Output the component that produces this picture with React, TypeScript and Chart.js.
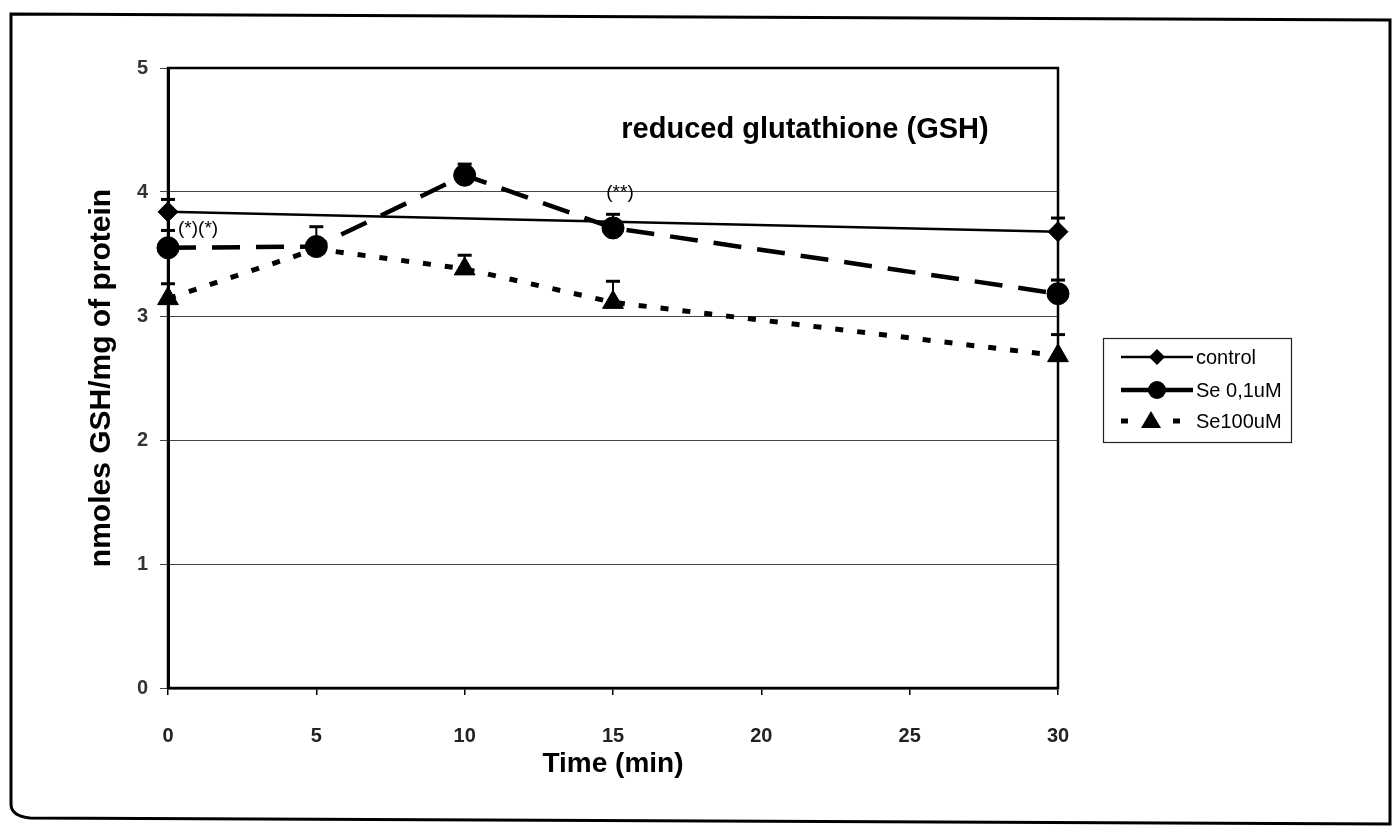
import React, { useEffect, useRef } from "react";
import { Chart, registerables } from "chart.js";

Chart.register(...registerables);

// ---- data ----
const timeTicks = [0, 5, 10, 15, 20, 25, 30];
const valueTicks = [0, 1, 2, 3, 4, 5];
const seriesLabels = ["control", "Se 0,1uM", "Se100uM"];

const controlTimes = [0, 30];
const controlValues = [3.84, 3.68];
const controlErrors = [0.1, 0.11];

const se01Times = [0, 5, 10, 15, 30];
const se01Values = [3.55, 3.56, 4.135, 3.71, 3.18];
const se01Errors = [0.14, 0.16, 0.09, 0.11, 0.11];

const se100Times = [0, 5, 10, 15, 30];
const se100Values = [3.14, 3.54, 3.38, 3.11, 2.68];
const se100Errors = [0.12, 0, 0.11, 0.17, 0.17];

const chartTitle = "reduced glutathione (GSH)";
const xTitle = "Time (min)";
const yTitle = "nmoles GSH/mg of protein";
const annotationSeries = [1, 1];
const annotationIndex = [0, 3];
const annotationText = ["(*)(*)", "(**)"];

const FONT = "'Liberation Sans', Arial, Helvetica, sans-serif";

const toPoints = (xs: number[], ys: number[]) => xs.map((x, i) => ({ x, y: ys[i] }));

const errorSets = [controlErrors, se01Errors, se100Errors];

const decorPlugin = {
  id: "decor",
  beforeDraw(chart: any) {
    const { ctx, width, height } = chart;
    ctx.save();
    ctx.fillStyle = "#fff";
    ctx.fillRect(0, 0, width, height);
    // outer frame
    ctx.strokeStyle = "#000";
    ctx.lineWidth = 3;
    ctx.beginPath();
    ctx.moveTo(11, 14);
    ctx.lineTo(width - 4, 20);
    ctx.lineTo(width - 4, height - 10);
    ctx.lineTo(30, height - 16);
    ctx.quadraticCurveTo(11, height - 18, 11, height - 30);
    ctx.closePath();
    ctx.stroke();
    ctx.restore();
  },
  afterDatasetsDraw(chart: any) {
    const { ctx } = chart;
    const yScale = chart.scales.y;
    ctx.save();
    ctx.strokeStyle = "#000";
    chart.data.datasets.forEach((ds: any, di: number) => {
      const meta = chart.getDatasetMeta(di);
      const errs = errorSets[di];
      meta.data.forEach((pt: any, i: number) => {
        const e = errs[i];
        if (!e) return;
        const v = ds.data[i].y;
        const yTop = yScale.getPixelForValue(v + e);
        ctx.lineWidth = 2;
        ctx.beginPath();
        ctx.moveTo(pt.x, pt.y);
        ctx.lineTo(pt.x, yTop);
        ctx.stroke();
        ctx.lineWidth = 3;
        ctx.beginPath();
        ctx.moveTo(pt.x - 7, yTop);
        ctx.lineTo(pt.x + 7, yTop);
        ctx.stroke();
      });
    });
    ctx.restore();
  },
  afterDraw(chart: any) {
    const { ctx, chartArea } = chart;
    const { left, right, top, bottom } = chartArea;
    ctx.save();
    // plot frame
    ctx.strokeStyle = "#000";
    ctx.lineWidth = 2.5;
    ctx.strokeRect(left, top, right - left, bottom - top);

    // title inside plot
    ctx.fillStyle = "#000";
    ctx.font = `bold 29px ${FONT}`;
    ctx.textAlign = "center";
    ctx.textBaseline = "middle";
    ctx.fillText(chartTitle, left + 637, top + 62);

    // annotations
    ctx.font = `19px ${FONT}`;
    annotationText.forEach((t, k) => {
      const meta = chart.getDatasetMeta(annotationSeries[k]);
      const pt = meta.data[annotationIndex[k]];
      if (k === 0) {
        ctx.textAlign = "left";
        ctx.fillText(t, pt.x + 10, pt.y - 19);
      } else {
        ctx.textAlign = "center";
        ctx.fillText(t, pt.x + 7, pt.y - 35);
      }
    });

    // legend
    const bx = right + 45;
    const by = top + 270;
    const bw = 188;
    const bh = 104;
    ctx.lineWidth = 1.2;
    ctx.strokeStyle = "#222";
    ctx.strokeRect(bx + 0.5, by + 0.5, bw, bh);
    const rowY = [by + 19, by + 52, by + 83];
    const x0 = bx + 18;
    const x1 = bx + 90;
    const xm = (x0 + x1) / 2;
    ctx.strokeStyle = "#000";
    ctx.fillStyle = "#000";
    // control
    ctx.lineWidth = 2.5;
    ctx.beginPath();
    ctx.moveTo(x0, rowY[0]);
    ctx.lineTo(x1, rowY[0]);
    ctx.stroke();
    ctx.beginPath();
    ctx.moveTo(xm, rowY[0] - 8);
    ctx.lineTo(xm + 8, rowY[0]);
    ctx.lineTo(xm, rowY[0] + 8);
    ctx.lineTo(xm - 8, rowY[0]);
    ctx.closePath();
    ctx.fill();
    // se 0.1
    ctx.lineWidth = 4.5;
    ctx.beginPath();
    ctx.moveTo(x0, rowY[1]);
    ctx.lineTo(x1, rowY[1]);
    ctx.stroke();
    ctx.beginPath();
    ctx.arc(xm, rowY[1], 9, 0, Math.PI * 2);
    ctx.fill();
    // se 100
    ctx.fillRect(x0, rowY[2] - 2.5, 7, 5);
    ctx.fillRect(x1 - 20, rowY[2] - 2.5, 7, 5);
    ctx.beginPath();
    ctx.moveTo(xm - 6, rowY[2] - 10);
    ctx.lineTo(xm + 4, rowY[2] + 7);
    ctx.lineTo(xm - 16, rowY[2] + 7);
    ctx.closePath();
    ctx.fill();

    ctx.font = `20px ${FONT}`;
    ctx.textAlign = "left";
    ctx.textBaseline = "middle";
    seriesLabels.forEach((l, i) => {
      ctx.fillText(l, x1 + 3, rowY[i] + 1);
    });
    ctx.restore();
  },
};

export default function App() {
  const canvasRef = useRef<HTMLCanvasElement | null>(null);

  useEffect(() => {
    const canvas = canvasRef.current;
    if (!canvas) return;
    const chart = new Chart(canvas, {
      type: "scatter",
      data: {
        datasets: [
          {
            label: seriesLabels[0],
            data: toPoints(controlTimes, controlValues),
            showLine: true,
            clip: false,
            borderColor: "#000",
            backgroundColor: "#000",
            borderWidth: 2.5,
            pointStyle: "rectRot",
            pointRadius: 10,
            pointBorderWidth: 1,
          },
          {
            label: seriesLabels[1],
            data: toPoints(se01Times, se01Values),
            showLine: true,
            clip: false,
            borderColor: "#000",
            backgroundColor: "#000",
            borderWidth: 4.5,
            borderDash: [28, 16],
            pointStyle: "circle",
            pointRadius: 11,
            pointBorderWidth: 1,
          },
          {
            label: seriesLabels[2],
            data: toPoints(se100Times, se100Values),
            showLine: true,
            clip: false,
            borderColor: "#000",
            backgroundColor: "#000",
            borderWidth: 5,
            borderDash: [8, 14],
            pointStyle: "triangle",
            pointRadius: [12, 10, 12, 12, 12],
            pointBorderWidth: 1,
          },
        ],
      },
      options: {
        animation: false,
        responsive: false,
        devicePixelRatio: 1,
        layout: { padding: { top: 68, right: 336, left: 0, bottom: 0 } },
        elements: { line: { tension: 0 } },
        plugins: {
          legend: { display: false },
          tooltip: { enabled: false },
          title: { display: false },
        },
        scales: {
          x: {
            type: "linear",
            min: 0,
            max: 30,
            afterBuildTicks: (s: any) => {
              s.ticks = timeTicks.map((v) => ({ value: v }));
            },
            afterFit: (s: any) => {
              s.height = 146;
            },
            ticks: {
              autoSkip: false,
              maxRotation: 0,
              padding: 29,
              color: "#222",
              font: { family: FONT, size: 20, weight: "bold" },
            },
            grid: {
              drawOnChartArea: false,
              drawTicks: true,
              tickLength: 7,
              color: "#000",
              lineWidth: 1.5,
            },
            border: { display: true, color: "#000", width: 2.5 },
            title: {
              display: true,
              text: xTitle,
              color: "#000",
              font: { family: FONT, size: 28, weight: "bold" },
              padding: { top: 0, bottom: 53 },
            },
          },
          y: {
            type: "linear",
            min: 0,
            max: 5,
            afterBuildTicks: (s: any) => {
              s.ticks = valueTicks.map((v) => ({ value: v }));
            },
            afterFit: (s: any) => {
              s.width = 168;
            },
            ticks: {
              padding: 12,
              color: "#333",
              font: { family: FONT, size: 20, weight: "bold" },
            },
            grid: {
              color: "#444",
              lineWidth: 1,
              tickLength: 8,
              drawTicks: true,
            },
            border: { display: true, color: "#000", width: 3 },
            title: {
              display: true,
              text: yTitle,
              color: "#000",
              font: { family: FONT, size: 30, weight: "bold" },
              padding: { top: 84, bottom: 0 },
            },
          },
        },
      },
      plugins: [decorPlugin],
    });
    return () => chart.destroy();
  }, []);

  return (
    <div style={{ position: "absolute", left: 0, top: 0, width: 1394, height: 834, background: "#fff" }}>
      <canvas ref={canvasRef} width={1394} height={834} style={{ display: "block" }} />
    </div>
  );
}
